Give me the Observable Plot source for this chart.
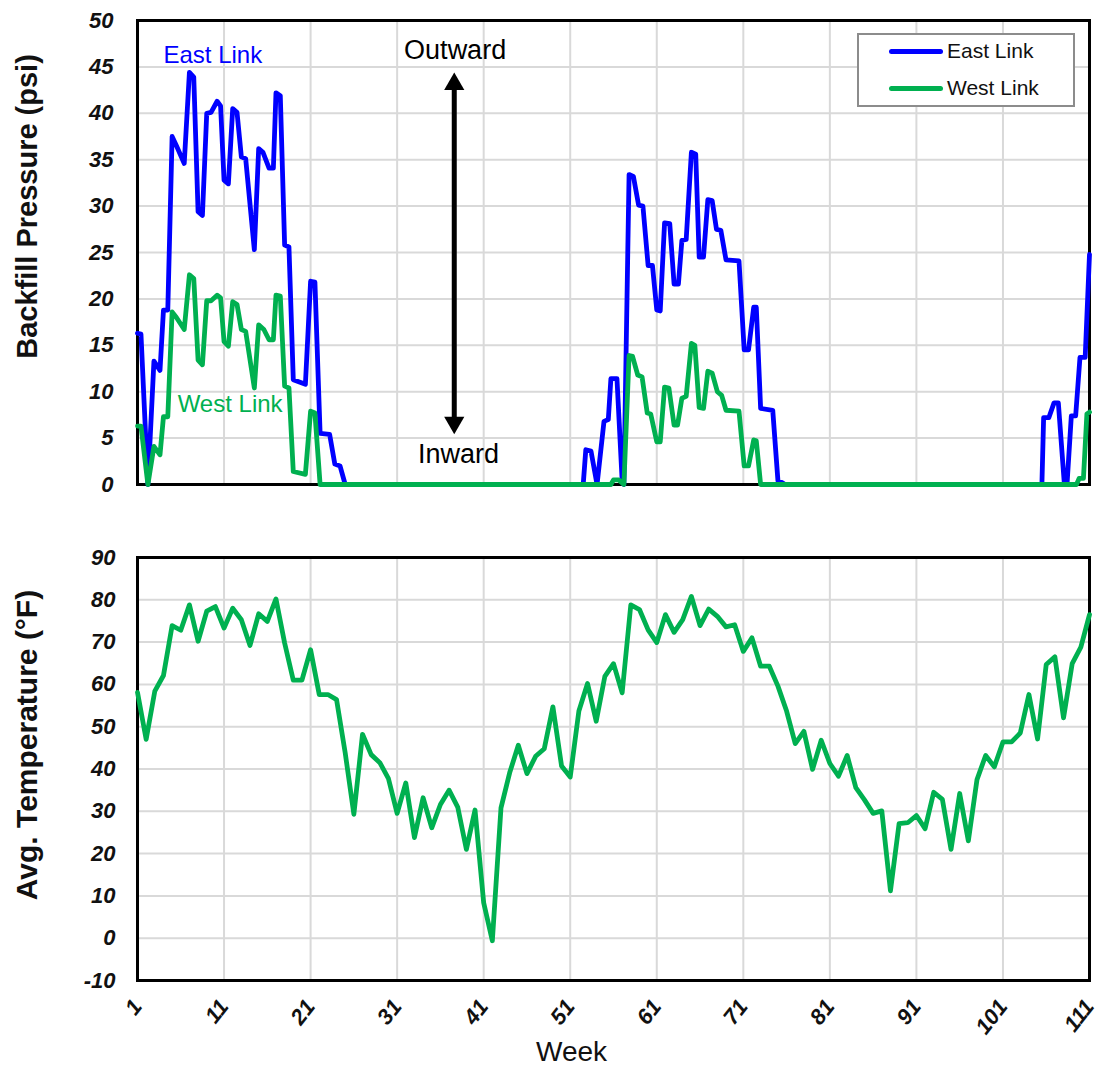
<!DOCTYPE html>
<html>
<head>
<meta charset="utf-8">
<script src="https://cdn.jsdelivr.net/npm/d3@7"></script>
<script src="https://cdn.jsdelivr.net/npm/@observablehq/plot@0.6"></script>
<style>
  body { margin: 0; background: #fff; }
  #wrap { position: relative; width: 1098px; height: 1072px; font-family: Arial, "Liberation Sans", sans-serif; background: #fff; }
  #top, #bottom { position: absolute; left: 0; }
  #top { top: 0; }
  #bottom { top: 500px; }
  g[aria-label$="tick label"] text { font-weight: bold; font-style: italic; }
  .legend { position: absolute; left: 857px; top: 33px; width: 214px; height: 70px; border: 2px solid #8c8c8c; background: #fff; }
  .legend .row { position: absolute; left: 0; height: 26px; line-height: 26px; font-size: 21px; color: #111; white-space: nowrap; }
  .legend .sw { position: absolute; left: 30px; top: 10.5px; width: 54px; height: 5px; border-radius: 3px; }
  .legend .lab { position: absolute; left: 88px; top: 0; }
</style>
</head>
<body>
<div id="wrap">
  <div id="top"></div>
  <div id="bottom"></div>
</div>
<script>
// ---------- data ----------
const weekTicks = [1, 11, 21, 31, 41, 51, 61, 71, 81, 91, 101, 111];
const pressureTicks = [0, 5, 10, 15, 20, 25, 30, 35, 40, 45, 50];
const tempTicks = [-10, 0, 10, 20, 30, 40, 50, 60, 70, 80, 90];

const seriesNames = ["East Link", "West Link"];
const seriesColors = ["#0000ff", "#00b050"];

// East Link backfill pressure (psi) — readings (week, psi)
const eastWeek = [1, 1.4, 2.2, 2.9, 3.6, 4.0, 4.5, 5.0, 5.5, 6.4, 7.0, 7.5, 8.0, 8.5, 9.0, 9.5, 10.2, 10.6, 11.0, 11.5,
  12.0, 12.5, 13.0, 13.5, 14.5, 15.0, 15.5, 16.2, 16.7, 17.0, 17.5, 18.0, 18.5, 19.0, 20.4, 21.0, 21.5, 22.1, 23.2, 23.8,
  24.4, 25.0, 52.5, 52.8, 53.4, 54.1, 54.9, 55.4, 55.7, 56.4, 57.0, 57.2, 57.8, 58.3, 58.9, 59.4, 60.0, 60.5, 61.0, 61.4,
  61.9, 62.5, 63.0, 63.5, 63.9, 64.4, 65.0, 65.5, 65.9, 66.4, 66.9, 67.4, 67.9, 68.4, 69.0, 70.5, 71.1, 71.6, 72.2, 72.5,
  73.0, 74.4, 75.0, 75.5, 75.8, 105.5, 105.7, 106.3, 106.9, 107.4, 108.1, 108.4, 108.9, 109.4, 109.9, 110.5, 111];
const eastPsi = [16.3, 16.2, 0, 13.3, 12.3, 18.8, 18.8, 37.5, 36.5, 34.6, 44.4, 43.9, 29.4, 29.0, 40.0, 40.1, 41.3, 40.8, 32.8, 32.4,
  40.5, 40.1, 35.3, 35.1, 25.3, 36.2, 35.8, 34.1, 34.1, 42.2, 41.9, 25.8, 25.6, 11.3, 10.8, 21.9, 21.8, 5.5, 5.4, 2.2,
  2.0, 0, 0, 3.75, 3.6, 0, 6.8, 7.0, 11.4, 11.4, 0.4, 0, 33.4, 33.2, 30.1, 30.0, 23.6, 23.6, 18.8, 18.7,
  28.2, 28.1, 21.6, 21.6, 26.3, 26.4, 35.8, 35.6, 24.5, 24.5, 30.7, 30.6, 27.5, 27.4, 24.2, 24.1, 14.5, 14.5, 19.1, 19.1,
  8.2, 8.0, 0.4, 0.2, 0, 0, 7.2, 7.2, 8.8, 8.8, 0, 0, 7.4, 7.4, 13.7, 13.7, 24.8];

// West Link backfill pressure (psi) — readings (week, psi)
const westWeek = [1, 1.4, 2.2, 2.9, 3.6, 4.0, 4.5, 5.0, 5.5, 6.4, 7.0, 7.5, 8.0, 8.5, 9.0, 9.5, 10.2, 10.6, 11.0, 11.5,
  12.0, 12.5, 13.0, 13.5, 14.5, 15.0, 15.6, 16.2, 16.7, 17.0, 17.5, 18.0, 18.5, 19.0, 20.4, 21.0, 21.5, 22.1, 55.7, 56.0,
  56.6, 57.2, 57.8, 58.2, 58.8, 59.3, 59.9, 60.3, 61.0, 61.4, 61.9, 62.4, 63.0, 63.4, 63.9, 64.4, 65.0, 65.4, 65.9, 66.4,
  66.9, 67.4, 68.0, 68.5, 69.0, 70.5, 71.1, 71.6, 72.2, 72.5, 73.0, 109.5, 109.8, 110.3, 110.7, 111];
const westPsi = [6.3, 6.3, 0, 4.1, 3.2, 7.3, 7.3, 18.6, 18.0, 16.7, 22.6, 22.2, 13.4, 12.9, 19.8, 19.8, 20.4, 20.1, 15.4, 14.9,
  19.7, 19.4, 16.7, 16.5, 10.4, 17.2, 16.7, 15.6, 15.6, 20.4, 20.3, 10.6, 10.4, 1.4, 1.1, 7.9, 7.7, 0, 0, 0.5,
  0.5, 0, 13.9, 13.8, 11.8, 11.6, 7.7, 7.6, 4.6, 4.6, 10.5, 10.4, 6.4, 6.4, 9.3, 9.5, 15.2, 15.0, 8.3, 8.2,
  12.2, 12.0, 10.0, 9.6, 8.0, 7.9, 2.0, 2.0, 4.8, 4.7, 0, 0, 0.65, 0.65, 7.6, 7.8];

// Average weekly temperature (°F), weeks 1..111
const avgTemp = [58.1, 47.0, 58.4, 62.1, 73.9, 72.8, 78.8, 70.2, 77.3, 78.4,
  73.3, 78.0, 75.3, 69.2, 76.7, 74.9, 80.2, 69.8, 61.0, 61.0,
  68.2, 57.6, 57.6, 56.4, 43.8, 29.3, 48.2, 43.4, 41.5, 37.7,
  29.5, 36.7, 23.8, 33.2, 26.1, 31.6, 35.0, 31.0, 21.0, 30.3,
  8.4, -0.6, 30.8, 39.1, 45.6, 38.9, 43.0, 44.8, 54.7, 40.7,
  38.1, 53.7, 60.2, 51.3, 61.9, 64.9, 58.0, 78.8, 77.7, 72.9,
  69.9, 76.5, 72.3, 75.3, 80.8, 73.9, 77.8, 76.1, 73.6, 74.1,
  67.8, 71.0, 64.3, 64.3, 59.6, 53.7, 46.0, 48.9, 39.9, 46.8,
  41.3, 38.3, 43.2, 35.6, 32.7, 29.5, 30.1, 11.2, 27.1, 27.3,
  29.0, 25.9, 34.5, 32.8, 21.0, 34.2, 23.0, 37.5, 43.2, 40.5,
  46.4, 46.4, 48.5, 57.6, 47.1, 64.7, 66.5, 52.1, 64.9, 68.8,
  76.5];

// annotations (data units)
const noteText = ["East Link", "West Link", "Outward", "Inward"];
const noteWeek = [9.7, 11.7, 37.7, 38.1];
const notePsi = [46.3, 8.6, 46.8, 3.2];
const noteColor = ["#0000ff", "#00b050", "#000000", "#000000"];
const noteSize = [24, 24, 27, 27];
const arrowWeek = 37.6, arrowTop = 44.4, arrowBottom = 5.4;

// ---------- build ----------
const east = eastWeek.map((w, i) => ({week: w, psi: eastPsi[i]}));
const west = westWeek.map((w, i) => ({week: w, psi: westPsi[i]}));
const temps = avgTemp.map((t, i) => ({week: i + 1, temp: t}));
const notes = noteText.map((t, i) => ({text: t, week: noteWeek[i], psi: notePsi[i], color: noteColor[i], size: noteSize[i]}));
const arrow = [{week: arrowWeek, top: arrowTop, bottom: arrowBottom}];

const FONT = 'Arial, "Liberation Sans", sans-serif';
const grid = {stroke: "#d9d9d9", strokeWidth: 2, strokeOpacity: 1};
const LW = 4.8;

const topChart = Plot.plot({
  width: 1098, height: 500,
  marginLeft: 137, marginRight: 9, marginTop: 20, marginBottom: 16,
  style: {fontFamily: FONT, background: "transparent", overflow: "visible"},
  x: {domain: [1, 111], axis: null},
  y: {domain: [0, 50]},
  marks: [
    Plot.ruleX(weekTicks.slice(1, -1), grid),
    Plot.ruleY(pressureTicks.slice(1, -1), grid),
    Plot.axisY({ticks: pressureTicks, tickSize: 0, tickPadding: 24, fontSize: 22, fontWeight: "bold", fontStyle: "italic", fill: "#111", label: null, tickFormat: d => String(d)}),
    Plot.frame({stroke: "black", strokeWidth: 3}),
    Plot.text(["Backfill Pressure (psi)"], {frameAnchor: "left", textAnchor: "middle", lineAnchor: "middle", dx: -110, dy: -46, rotate: -90, fontSize: 29, fontWeight: "bold", fill: "#111"}),
    Plot.ruleX(arrow, {x: "week", y1: "top", y2: "bottom", stroke: "black", strokeWidth: 5, insetTop: 12, insetBottom: 12}),
    Plot.dot(arrow, {x: "week", y: "top", symbol: "triangle", r: 7.5, fill: "black", stroke: null, dy: 11.7}),
    Plot.dot(arrow, {x: "week", y: "bottom", symbol: "triangle", r: 7.5, fill: "black", stroke: null, rotate: 180, dy: -11.7}),
    ...notes.map(n => Plot.text([n], {x: "week", y: "psi", text: "text", fill: n.color, fontSize: n.size})),
    Plot.line(east, {x: "week", y: "psi", stroke: seriesColors[0], strokeWidth: LW}),
    Plot.line(west, {x: "week", y: "psi", stroke: seriesColors[1], strokeWidth: LW})
  ]
});
document.getElementById("top").appendChild(topChart);

const bottomChart = Plot.plot({
  width: 1098, height: 572,
  marginLeft: 137, marginRight: 9, marginTop: 57, marginBottom: 92,
  style: {fontFamily: FONT, background: "transparent", overflow: "visible"},
  x: {domain: [1, 111]},
  y: {domain: [-10, 90]},
  marks: [
    Plot.ruleX(weekTicks.slice(1, -1), grid),
    Plot.ruleY(tempTicks.slice(1, -1), grid),
    Plot.axisY({ticks: tempTicks, tickSize: 0, tickPadding: 22, fontSize: 22, fontWeight: "bold", fontStyle: "italic", fill: "#111", label: null, tickFormat: d => String(d)}),
    Plot.axisX({ticks: weekTicks, tickSize: 0, tickPadding: 22, tickRotate: -52, fontSize: 22, fontWeight: "bold", fontStyle: "italic", fill: "#111", label: null, tickFormat: d => String(d)}),
    Plot.frame({stroke: "black", strokeWidth: 3}),
    Plot.text(["Avg. Temperature (°F)"], {frameAnchor: "left", textAnchor: "middle", lineAnchor: "middle", dx: -110, dy: -24, rotate: -90, fontSize: 30, fontWeight: "bold", fill: "#111"}),
    Plot.text(["Week"], {frameAnchor: "bottom", dx: -42, dy: 80, fontSize: 28, fill: "#111"}),
    Plot.line(temps, {x: "week", y: "temp", stroke: "#00b050", strokeWidth: LW})
  ]
});
document.getElementById("bottom").appendChild(bottomChart);

// legend (HTML overlay inside the top plot)
const legend = document.createElement("div");
legend.className = "legend";
seriesNames.forEach((name, i) => {
  const row = document.createElement("div");
  row.className = "row";
  row.style.top = (i === 0 ? 3 : 40) + "px";
  row.style.width = "214px";
  const sw = document.createElement("span");
  sw.className = "sw";
  sw.style.background = seriesColors[i];
  const lab = document.createElement("span");
  lab.className = "lab";
  lab.textContent = name;
  row.appendChild(sw); row.appendChild(lab);
  legend.appendChild(row);
});
document.getElementById("wrap").appendChild(legend);
</script>
</body>
</html>
